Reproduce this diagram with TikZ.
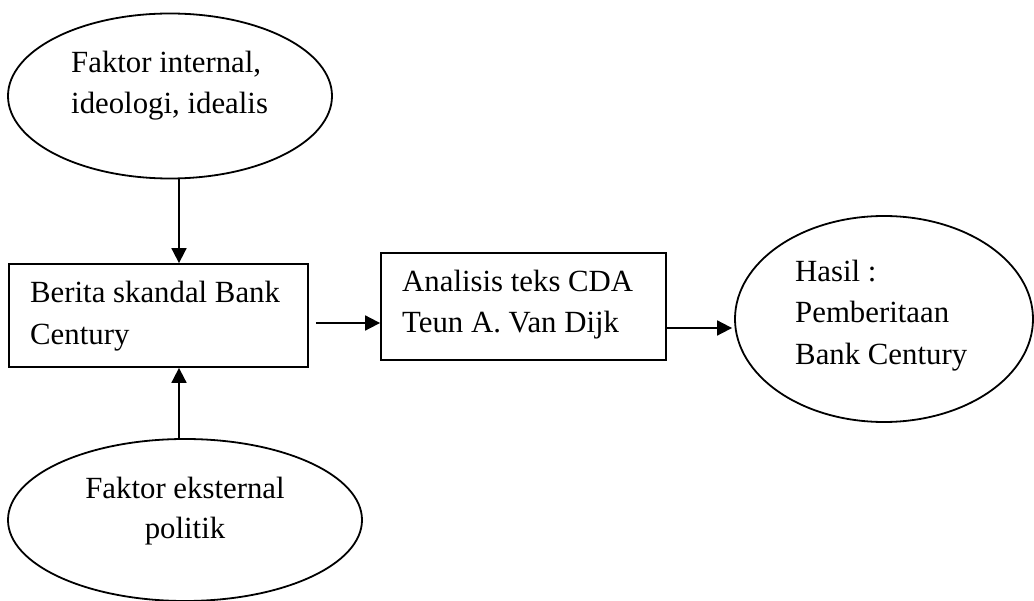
\documentclass[tikz,border=0pt]{standalone}
\usepackage{fontspec}
\setmainfont{Liberation Serif}
\usetikzlibrary{shapes.geometric,arrows.meta}
\begin{document}
\begin{tikzpicture}[x=1pt,y=-1pt,
  lbl/.style={inner sep=0pt,anchor=base west,font=\fontsize{30.8}{41}\selectfont},
  lblc/.style={inner sep=0pt,anchor=base,font=\fontsize{30.8}{41}\selectfont},
  ell/.style={draw,ellipse,line width=1.8pt,inner sep=0pt},
  boxx/.style={draw,rectangle,line width=1.8pt,inner sep=0pt},
  arr/.style={line width=1.8pt,-{Triangle[length=15pt,width=15pt]}}]
\useasboundingbox (0,0) rectangle (1034,601);
% shapes
\node[ell,minimum width=324pt,minimum height=165pt] (ell1) at (170,96) {};
\node[ell,minimum width=354pt,minimum height=162pt] (ell3) at (185,520) {};
\node[ell,minimum width=298pt,minimum height=206pt] (ell2) at (884,319) {};
\node[boxx,minimum width=299pt,minimum height=103pt] (box1) at (158.5,315.5) {};
\node[boxx,minimum width=285pt,minimum height=107pt] (box2) at (523.5,306.5) {};
% texts
\node[lbl] (t1a) at (71,73) {Faktor internal,};
\node[lbl] (t1b) at (71,114) {ideologi, idealis};
\node[lbl] (t2a) at (30,303) {Berita skandal Bank};
\node[lbl] (t2b) at (30,345) {Century};
\node[lbl] (t3a) at (402,292) {Analisis teks CDA};
\node[lbl] (t3b) at (402,333) {Teun A. Van Dijk};
\node[lbl] (t4a) at (795,282) {Hasil :};
\node[lbl] (t4b) at (795,323) {Pemberitaan};
\node[lbl] (t4c) at (795,365) {Bank Century};
\node[lblc] (t5a) at (185,498) {Faktor eksternal};
\node[lblc] (t5b) at (185,538) {politik};
% connectors
\coordinate (xa) at (179,0);
\coordinate (ya) at (0,323);
\coordinate (yb) at (0,328);
\draw[arr] (ell1.south -| xa) -- (box1.north -| xa);
\draw[arr] (ell3.north -| xa) -- (box1.south -| xa);
\draw[arr,shorten <=7pt] (box1.east |- ya) -- (box2.west |- ya);
\draw[arr,shorten >=2pt] (box2.east |- yb) -- (ell2.west |- yb);
\end{tikzpicture}
\end{document}
